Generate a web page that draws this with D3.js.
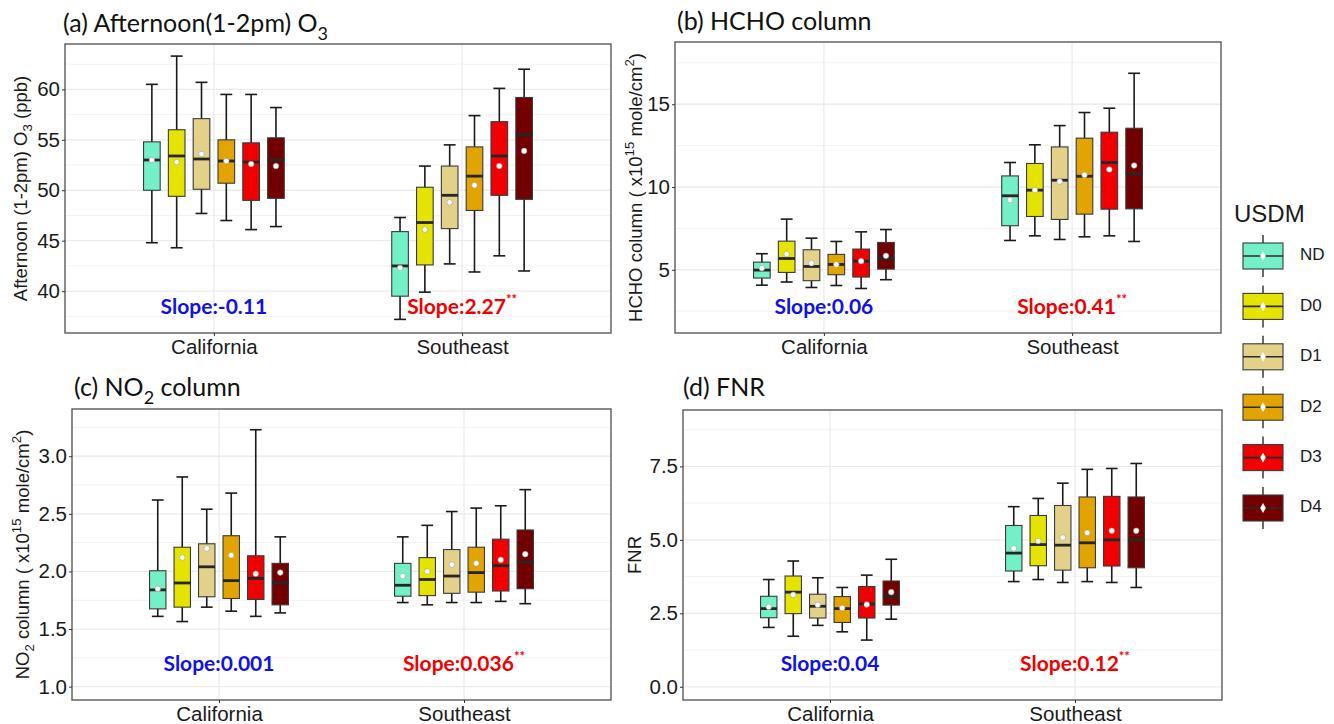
<!DOCTYPE html>
<html>
<head>
<meta charset="utf-8">
<script src="https://cdn.jsdelivr.net/npm/d3@7"></script>
<style>
  body { margin: 0; background: #fff; }
  svg { display: block; }
</style>
</head>
<body>
<svg id="chart" width="1334" height="724"></svg>
<script>
// ---- data -------------------------------------------------------------
const regions = ["California", "Southeast"];
const droughtClasses = ["ND", "D0", "D1", "D2", "D3", "D4"];
const classColors = ["#74F0C8", "#E4E400", "#E3D189", "#E2A400", "#F00000", "#720000"];

// each row: [lower whisker, Q1, median, Q3, upper whisker, mean]
const o3California = [
  [44.8, 50.0, 53.0, 54.8, 60.5, 53.0],
  [44.3, 49.4, 53.4, 56.0, 63.3, 52.8],
  [47.7, 50.1, 53.1, 57.1, 60.7, 53.6],
  [47.0, 50.7, 52.9, 55.0, 59.5, 52.9],
  [46.1, 49.0, 52.8, 54.7, 59.5, 52.6],
  [46.4, 49.2, 53.0, 55.2, 58.2, 52.4]
];
const o3Southeast = [
  [37.2, 39.5, 42.5, 45.9, 47.3, 42.3],
  [39.9, 42.6, 46.8, 50.3, 52.4, 46.1],
  [42.7, 46.2, 49.5, 52.4, 54.5, 48.8],
  [41.9, 48.0, 51.4, 54.3, 57.4, 50.5],
  [43.5, 49.5, 53.4, 56.8, 60.1, 52.4],
  [42.0, 49.1, 55.5, 59.2, 62.0, 53.9]
];
const hchoCalifornia = [
  [4.07, 4.50, 4.98, 5.46, 5.97, 5.10],
  [4.26, 4.84, 5.68, 6.73, 8.06, 5.95],
  [3.93, 4.34, 5.20, 6.21, 6.91, 5.40],
  [4.05, 4.70, 5.32, 5.93, 6.71, 5.32],
  [3.87, 4.56, 5.52, 6.25, 7.29, 5.52],
  [4.40, 5.04, 5.68, 6.65, 7.43, 5.84]
];
const hchoSoutheast = [
  [6.77, 7.66, 9.47, 10.67, 11.48, 9.21],
  [7.05, 8.22, 9.81, 11.42, 12.55, 9.81],
  [6.83, 8.04, 10.41, 12.42, 13.71, 10.33],
  [6.99, 8.36, 10.65, 12.95, 14.50, 10.73],
  [7.05, 8.66, 11.48, 13.31, 14.76, 11.06],
  [6.71, 8.68, 10.81, 13.55, 16.87, 11.30]
];
const no2California = [
  [1.61, 1.675, 1.84, 2.006, 2.62, 1.85],
  [1.565, 1.69, 1.90, 2.21, 2.82, 2.12],
  [1.69, 1.78, 2.04, 2.24, 2.54, 2.20],
  [1.655, 1.765, 1.92, 2.31, 2.68, 2.14],
  [1.61, 1.757, 1.94, 2.136, 3.23, 1.98],
  [1.64, 1.71, 1.90, 2.07, 2.30, 1.99]
];
const no2Southeast = [
  [1.73, 1.785, 1.88, 2.07, 2.30, 1.96],
  [1.71, 1.79, 1.93, 2.12, 2.40, 2.00],
  [1.73, 1.81, 1.96, 2.19, 2.52, 2.06],
  [1.73, 1.82, 1.99, 2.21, 2.55, 2.07],
  [1.74, 1.83, 2.05, 2.28, 2.57, 2.10],
  [1.72, 1.85, 2.08, 2.36, 2.71, 2.15]
];
const fnrCalifornia = [
  [2.02, 2.35, 2.66, 3.08, 3.65, 2.72],
  [1.72, 2.49, 3.22, 3.77, 4.28, 3.13],
  [2.09, 2.34, 2.74, 3.15, 3.71, 2.79],
  [1.87, 2.19, 2.66, 3.07, 3.38, 2.68],
  [1.59, 2.34, 2.82, 3.41, 3.80, 2.80],
  [2.30, 2.78, 3.08, 3.60, 4.34, 3.22]
];
const fnrSoutheast = [
  [3.58, 3.94, 4.55, 5.49, 6.13, 4.71],
  [3.65, 4.12, 4.84, 5.83, 6.41, 4.96],
  [3.55, 3.97, 4.82, 6.17, 6.93, 5.08],
  [3.58, 4.05, 4.90, 6.46, 7.40, 5.24],
  [3.55, 4.11, 5.00, 6.48, 7.43, 5.31],
  [3.38, 4.05, 5.00, 6.46, 7.60, 5.31]
];

// y-axis tick labels
const o3Ticks = [40, 45, 50, 55, 60];
const hchoTicks = [5, 10, 15];
const no2Ticks = [1.0, 1.5, 2.0, 2.5, 3.0];
const fnrTicks = [0.0, 2.5, 5.0, 7.5];

// regression slopes per region (value, significant)
const o3Slopes = [["-0.11", false], ["2.27", true]];
const hchoSlopes = [["0.06", false], ["0.41", true]];
const no2Slopes = [["0.001", false], ["0.036", true]];
const fnrSlopes = [["0.04", false], ["0.12", true]];

// ---- panel layout -----------------------------------------------------
const panels = [
  {
    stats: [o3California, o3Southeast], ticks: o3Ticks, fmt: d3.format("d"),
    domain: [35.85, 64.5], slopes: o3Slopes, slopeY: 38.2,
    frame: { l: 65, r: 611, t: 44, b: 333 },
    title: [["(a) Afternoon(1-2pm) O", ""], ["3", "sub"]], titleX: 63, titleY: 32,
    ylab: [["Afternoon (1-2pm) O", ""], ["3", "sub"], [" (ppb)", ""]], ylabX: 22
  },
  {
    stats: [hchoCalifornia, hchoSoutheast], ticks: hchoTicks, fmt: d3.format("d"),
    domain: [1.18, 18.76], slopes: hchoSlopes, slopeY: 2.6,
    frame: { l: 675, r: 1221, t: 42, b: 333 },
    title: [["(b) HCHO column", ""]], titleX: 677, titleY: 30,
    ylab: [["HCHO column ( x10", ""], ["15", "sup"], [" mole/cm", ""], ["2", "sup"], [")", ""]], ylabX: 637
  },
  {
    stats: [no2California, no2Southeast], ticks: no2Ticks, fmt: d3.format(".1f"),
    domain: [0.884, 3.41], slopes: no2Slopes, slopeY: 1.18,
    frame: { l: 72, r: 611, t: 409, b: 700 },
    title: [["(c) NO", ""], ["2", "sub"], [" column", ""]], titleX: 74, titleY: 396,
    ylab: [["NO", ""], ["2", "sub"], [" column ( x10", ""], ["15", "sup"], [" mole/cm", ""], ["2", "sup"], [")", ""]], ylabX: 24
  },
  {
    stats: [fnrCalifornia, fnrSoutheast], ticks: fnrTicks, fmt: d3.format(".1f"),
    domain: [-0.45, 9.42], slopes: fnrSlopes, slopeY: 0.70,
    frame: { l: 683, r: 1222, t: 410, b: 700 },
    title: [["(d) FNR", ""]], titleX: 683, titleY: 396,
    ylab: [["FNR", ""]], ylabX: 636
  }
];

const svg = d3.select("#chart");
const sansFont = "'Liberation Sans', Arial, sans-serif";
const titleFont = "Lato, 'Open Sans', sans-serif";

// writes text with sub/superscript segments into a <text> element
function richText(textSel, segments, fs) {
  let shift = 0;
  segments.forEach(([str, kind]) => {
    const target = kind === "sub" ? 0.3 * fs : kind === "sup" ? -0.38 * fs : 0;
    const ts = textSel.append("tspan").text(str).attr("dy", target - shift);
    if (kind) ts.attr("font-size", fs * 0.72);
    shift = target;
  });
}

const dodgeStep = 0.1;   // spacing between classes (x units)
const boxWidth = 0.067;  // box width (x units)
const capWidth = 0.048;  // whisker cap width (x units)

panels.forEach(p => {
  const f = p.frame;
  const g = svg.append("g");

  const x = d3.scaleLinear().domain([0.4, 2.6]).range([f.l, f.r]);
  const y = d3.scaleLinear().domain(p.domain).range([f.b, f.t]);

  // background grid
  const step = p.ticks[1] - p.ticks[0];
  const minor = d3.range(p.ticks[0] - step / 2, p.domain[1], step)
    .filter(v => v > p.domain[0] && v < p.domain[1]);
  g.append("g").selectAll("line").data(minor).join("line")
    .attr("x1", f.l).attr("x2", f.r)
    .attr("y1", d => y(d)).attr("y2", d => y(d))
    .attr("stroke", "#F2F2F2").attr("stroke-width", 1);
  g.append("g").selectAll("line").data(p.ticks).join("line")
    .attr("x1", f.l).attr("x2", f.r)
    .attr("y1", d => y(d)).attr("y2", d => y(d))
    .attr("stroke", "#EBEBEB").attr("stroke-width", 1.3);
  g.append("g").selectAll("line").data([1, 2]).join("line")
    .attr("x1", d => x(d)).attr("x2", d => x(d))
    .attr("y1", f.t).attr("y2", f.b)
    .attr("stroke", "#EBEBEB").attr("stroke-width", 1.3);

  // boxes
  p.stats.forEach((regionStats, ri) => {
    regionStats.forEach((s, ci) => {
      const [lo, q1, med, q3, hi, mean] = s;
      const cx = ri + 1 + (ci - 2.5) * dodgeStep;
      const bg = g.append("g");
      bg.append("line")
        .attr("x1", x(cx)).attr("x2", x(cx)).attr("y1", y(lo)).attr("y2", y(hi))
        .attr("stroke", "#1a1a1a").attr("stroke-width", 1.6);
      [lo, hi].forEach(v => {
        bg.append("line")
          .attr("x1", x(cx - capWidth / 2)).attr("x2", x(cx + capWidth / 2))
          .attr("y1", y(v)).attr("y2", y(v))
          .attr("stroke", "#1a1a1a").attr("stroke-width", 1.6);
      });
      bg.append("rect")
        .attr("x", x(cx - boxWidth / 2)).attr("width", x(cx + boxWidth / 2) - x(cx - boxWidth / 2))
        .attr("y", y(q3)).attr("height", y(q1) - y(q3))
        .attr("fill", classColors[ci]).attr("stroke", "#3a3a3a").attr("stroke-width", 1.1);
      bg.append("line")
        .attr("x1", x(cx - boxWidth / 2)).attr("x2", x(cx + boxWidth / 2))
        .attr("y1", y(med)).attr("y2", y(med))
        .attr("stroke", "#262626").attr("stroke-width", 2.8);
      bg.append("circle")
        .attr("cx", x(cx)).attr("cy", y(mean)).attr("r", 2.8)
        .attr("fill", "#fff").attr("stroke", "#9a9a9a").attr("stroke-width", 0.6);
    });
  });

  // slope annotations
  p.slopes.forEach(([val, sig], ri) => {
    const t = g.append("text")
      .attr("x", x(ri + 1)).attr("y", y(p.slopeY))
      .attr("text-anchor", "middle").attr("dominant-baseline", "middle")
      .attr("font-family", titleFont).attr("font-weight", 700).attr("font-size", 21)
      .attr("fill", sig ? "#F00000" : "#1010E8");
    t.append("tspan").text("Slope:" + val);
    if (sig) t.append("tspan").text("**").attr("font-size", 13).attr("dy", -8);
  });

  // panel frame
  g.append("rect")
    .attr("x", f.l).attr("y", f.t).attr("width", f.r - f.l).attr("height", f.b - f.t)
    .attr("fill", "none").attr("stroke", "#5a5a5a").attr("stroke-width", 1.4);

  // axes
  const yAxis = g.append("g").attr("transform", `translate(${f.l},0)`)
    .call(d3.axisLeft(y).tickValues(p.ticks).tickFormat(p.fmt).tickSize(3).tickPadding(2));
  const xAxis = g.append("g").attr("transform", `translate(0,${f.b})`)
    .call(d3.axisBottom(x).tickValues([1, 2]).tickFormat((d, i) => regions[i]).tickSize(3).tickPadding(3));
  [yAxis, xAxis].forEach(ax => {
    ax.select(".domain").remove();
    ax.selectAll(".tick line").attr("stroke", "#333");
    ax.selectAll(".tick text").attr("fill", "#1a1a1a")
      .attr("font-family", sansFont).attr("font-size", 20.5);
  });

  // titles
  const title = g.append("text").attr("x", p.titleX).attr("y", p.titleY)
    .attr("font-family", titleFont).attr("font-size", 25).attr("fill", "#111");
  richText(title, p.title, 25);

  const ylab = g.append("text")
    .attr("transform", `translate(${p.ylabX},${(f.t + f.b) / 2}) rotate(-90)`)
    .attr("text-anchor", "middle").attr("dominant-baseline", "middle")
    .attr("font-family", sansFont).attr("font-size", 18.5).attr("fill", "#1a1a1a");
  richText(ylab, p.ylab, 18.5);
});

// ---- legend -----------------------------------------------------------
const legend = svg.append("g");
legend.append("text").attr("x", 1234).attr("y", 222).text("USDM")
  .attr("font-family", sansFont).attr("font-size", 24).attr("fill", "#1a1a1a");
const keyY = d3.scalePoint().domain(droughtClasses).range([256, 508]);
droughtClasses.forEach((c, i) => {
  const cy = keyY(c);
  const k = legend.append("g");
  k.append("line").attr("x1", 1263).attr("x2", 1263).attr("y1", cy - 21).attr("y2", cy + 21)
    .attr("stroke", "#2b2b2b").attr("stroke-width", 1.4);
  k.append("rect").attr("x", 1243).attr("y", cy - 13).attr("width", 40).attr("height", 26)
    .attr("fill", classColors[i]).attr("stroke", "#3a3a3a").attr("stroke-width", 1.1);
  k.append("line").attr("x1", 1243).attr("x2", 1283).attr("y1", cy).attr("y2", cy)
    .attr("stroke", "#2b2b2b").attr("stroke-width", 1.6);
  k.append("path").attr("d", d3.symbol(d3.symbolDiamond, 28)())
    .attr("transform", `translate(1263,${cy})`).attr("fill", "#fff");
  k.append("text").attr("x", 1300).attr("y", cy).attr("dominant-baseline", "middle")
    .text(c).attr("font-family", sansFont).attr("font-size", 17).attr("fill", "#1a1a1a");
});
</script>
</body>
</html>
